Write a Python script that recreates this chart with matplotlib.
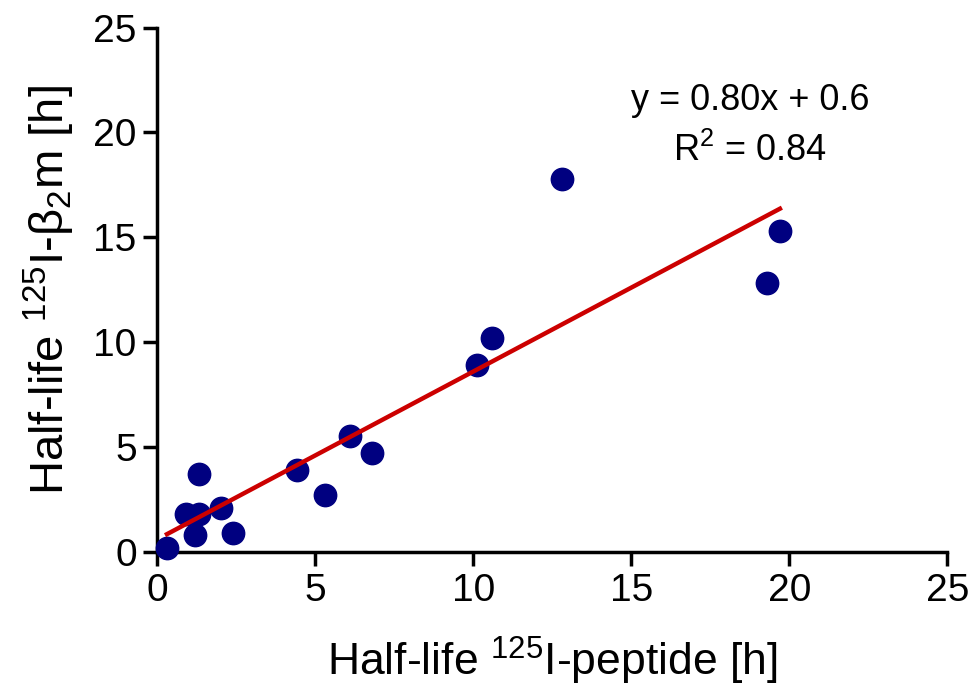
"""Half-life scatter: 125I-peptide vs 125I-beta2m with linear fit."""

import matplotlib
matplotlib.use("Agg")
import matplotlib.pyplot as plt
import numpy as np

plt.rcParams["font.family"] = ["Liberation Sans", "DejaVu Sans"]
plt.rcParams["mathtext.fontset"] = "custom"
plt.rcParams["mathtext.rm"] = "Liberation Sans"

# half-lives [h]
peptide = [0.3, 0.9, 1.3, 1.3, 1.2, 2.0, 2.4, 4.4, 5.3, 6.1, 6.8,
           10.1, 10.6, 12.8, 19.3, 19.7]
beta2m = [0.2, 1.8, 1.8, 3.7, 0.8, 2.1, 0.9, 3.9, 2.7, 5.5, 4.7,
          8.9, 10.2, 17.8, 12.8, 15.3]
fit_slope = 0.80
fit_intercept = 0.6
fit_r2 = 0.84
ticks = [0, 5, 10, 15, 20, 25]

fig = plt.figure(figsize=(9.68, 6.88), dpi=100)
ax = fig.add_axes([0.1627, 0.198, 0.816, 0.762])

ax.scatter(peptide, beta2m, s=260, color="#000080", zorder=3, clip_on=False)
xfit = np.array([min(peptide), max(peptide)])
ax.plot(xfit, fit_slope * xfit + fit_intercept, color="#CC0000", lw=3.2, zorder=4)

ax.set_xlim(0, 25)
ax.set_ylim(0, 25)
ax.set_xticks(ticks)
ax.set_yticks(ticks)
for side in ("top", "right"):
    ax.spines[side].set_visible(False)
for side in ("left", "bottom"):
    ax.spines[side].set_linewidth(2.5)
ax.tick_params(direction="out", length=10, width=2.5, labelsize=28, pad=5)

ax.set_xlabel(r"Half-life $\mathregular{^{125}}$I-peptide [h]", fontsize=32, labelpad=19)
ax.set_ylabel(r"Half-life $\mathregular{^{125}}$I-β$\mathregular{_2}$m [h]", fontsize=34, labelpad=12)

ax.text(0.75, 0.86, f"y = {fit_slope:.2f}x + {fit_intercept}", transform=ax.transAxes,
        ha="center", va="center", fontsize=26)
ax.text(0.75, 0.765, f"R$\\mathregular{{^2}}$ = {fit_r2:.2f}", transform=ax.transAxes,
        ha="center", va="center", fontsize=26)

fig.savefig("out.png", dpi=100)
